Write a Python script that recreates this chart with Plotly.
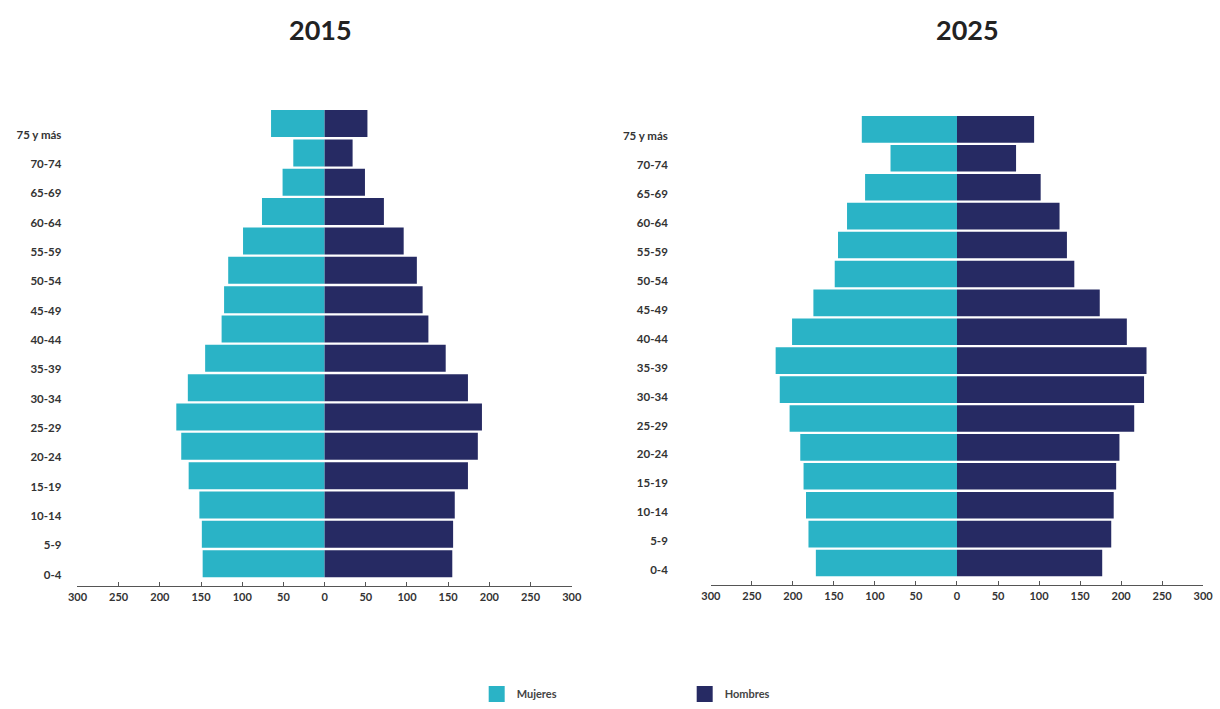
import plotly.graph_objects as go

ages = ["0-4", "5-9", "10-14", "15-19", "20-24", "25-29", "30-34", "35-39",
        "40-44", "45-49", "50-54", "55-59", "60-64", "65-69", "70-74", "75 y más"]

mujeres_2015 = [148, 149, 152, 165, 174, 180, 166, 145, 125, 122, 117, 99, 76, 51, 38, 65]
hombres_2015 = [155, 156, 158, 174, 186, 191, 174, 147, 126, 119, 112, 96, 72, 49, 34, 52]

mujeres_2025 = [172, 181, 184, 187, 191, 204, 216, 221, 201, 175, 149, 145, 134, 112, 81, 116]
hombres_2025 = [177, 188, 191, 194, 198, 216, 228, 231, 207, 174, 143, 134, 125, 102, 72, 94]

tick_vals = [-300, -250, -200, -150, -100, -50, 0, 50, 100, 150, 200, 250, 300]
tick_text = [str(abs(v)) for v in tick_vals]

years = ["2015", "2025"]

C_MUJ = "#2AB3C6"
C_HOM = "#262A63"
FONT = "Lato"

W, H = 1220, 709


def fx(px):
    # compensate the horizontal squeeze seen in the captured page
    return ((px - 10.6) / 0.983) / W


def fy(py):
    return 1 - py / H


fig = go.Figure()

for i, (muj, hom) in enumerate([(mujeres_2015, hombres_2015), (mujeres_2025, hombres_2025)]):
    xa = "x" if i == 0 else "x2"
    ya = "y" if i == 0 else "y2"
    fig.add_trace(go.Bar(y=ages, x=[-v for v in muj], orientation="h", name="Mujeres",
                         marker=dict(color=C_MUJ, line=dict(width=0)),
                         customdata=muj, hovertemplate="%{y}: %{customdata}<extra>Mujeres</extra>",
                         xaxis=xa, yaxis=ya, showlegend=False, legendgroup="m"))
    fig.add_trace(go.Bar(y=ages, x=hom, orientation="h", name="Hombres",
                         marker=dict(color=C_HOM, line=dict(width=0)),
                         hovertemplate="%{y}: %{x}<extra>Hombres</extra>",
                         xaxis=xa, yaxis=ya, showlegend=False, legendgroup="h"))

# legend entries with larger square swatches
for name, col, grp in [("Mujeres", C_MUJ, "m"), ("Hombres", C_HOM, "h")]:
    fig.add_trace(go.Scatter(x=[None], y=[None], mode="markers", name=name, legendgroup=grp,
                             marker=dict(symbol="square", size=16, color=col),
                             xaxis="x", yaxis="y", hoverinfo="skip"))

xcommon = dict(range=[-300, 300], tickvals=tick_vals, ticktext=tick_text,
               showgrid=False, zeroline=False, showline=True, linecolor="#555", linewidth=1,
               ticks="inside", ticklen=4, tickcolor="#555", fixedrange=True,
               tickfont=dict(family=FONT, size=11, color="#333", weight="bold"))
ycommon = dict(type="category", categoryorder="array", categoryarray=ages,
               showgrid=False, zeroline=False, showline=False, ticks="",
               tickfont=dict(family=FONT, size=11.5, color="#333", weight="bold"),
               fixedrange=True)

fig.update_layout(
    width=W, height=H,
    margin=dict(l=0, r=0, t=0, b=0),
    paper_bgcolor="white", plot_bgcolor="white",
    barmode="relative", bargap=0.08,
    xaxis=dict(domain=[fx(78), fx(572)], anchor="y", **xcommon),
    yaxis=dict(domain=[fy(593), fy(106)], anchor="x", range=[-0.77, 15.64],
               ticklabelshift=11, ticklabelstandoff=15, **ycommon),
    xaxis2=dict(domain=[fx(711), fx(1203)], anchor="y2", **xcommon),
    yaxis2=dict(domain=[fy(592), fy(106)], anchor="x2", range=[-0.77, 15.85],
                ticklabelshift=7, ticklabelstandoff=42, **ycommon),
    legend=dict(orientation="h", x=fx(477), y=fy(702), xanchor="left", yanchor="middle",
                entrywidth=163, entrywidthmode="pixels",
                font=dict(family=FONT, size=11, color="#444", weight="bold"),
                bgcolor="rgba(0,0,0,0)"),
    annotations=[
        dict(text="<b>" + years[0] + "</b>", x=fx(321), y=fy(30), xref="paper", yref="paper",
             xanchor="center", yanchor="middle",
             showarrow=False, font=dict(family=FONT, size=27, color="#222")),
        dict(text="<b>" + years[1] + "</b>", x=fx(968), y=fy(30), xref="paper", yref="paper",
             xanchor="center", yanchor="middle",
             showarrow=False, font=dict(family=FONT, size=27, color="#222")),
    ],
)

# pin the figure to the page corner so the page is exactly the window size
pin_js = ("var d=document.getElementById('{plot_id}');"
          "d.style.position='absolute';d.style.left='0px';d.style.top='0px';"
          "document.body.style.margin='0';document.body.style.overflow='hidden';"
          "document.documentElement.style.overflow='hidden';")

fig.write_html("out.html", post_script=pin_js, config={"displayModeBar": False})
